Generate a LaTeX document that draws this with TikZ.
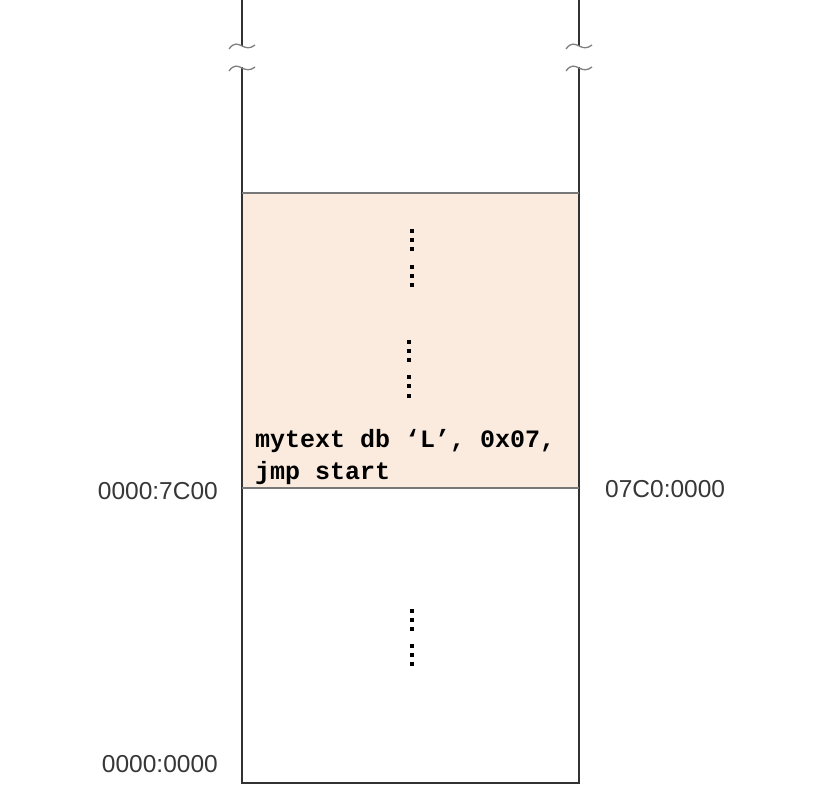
\documentclass[tikz,border=0pt]{standalone}
\usepackage{fontspec}
\setmainfont{Liberation Sans}
\newfontfamily\codefont{Liberation Mono}
\definecolor{memfill}{RGB}{250,235,222}
\definecolor{wall}{RGB}{50,50,50}
\definecolor{sepc}{RGB}{120,120,120}
\definecolor{labelc}{RGB}{55,55,55}
\begin{document}
\begin{tikzpicture}[x=1pt,y=-1pt,
  wallline/.style={draw=wall,line width=1.1pt},
  sepline/.style={draw=sepc,line width=1.1pt},
  breakmark/.style={draw=gray,line width=1.3pt},
  addr/.style={font=\fontsize{24.5}{28}\selectfont,text=labelc,inner sep=0pt},
  code/.style={font=\codefont\bfseries\fontsize{25}{30}\selectfont,text=black,inner sep=0pt},
  dotmark/.style={fill=black}]
\useasboundingbox (0,0) rectangle (823,809);
% shaded region
\fill[memfill] (242,193) rectangle (579,488);
% walls
\coordinate (lt) at (242,0);
\coordinate (lb1) at (242,46);
\coordinate (lt2) at (242,67);
\coordinate (lbot) at (242,783);
\coordinate (rt) at (579,0);
\coordinate (rb1) at (579,46);
\coordinate (rt2) at (579,67);
\coordinate (rbot) at (579,783);
\draw[wallline] (lt) -- (lb1);
\draw[wallline] (lt2) -- (lbot) -- (rbot) -- (rt2);
\draw[wallline] (rt) -- (rb1);
% break marks
\foreach \xx in {242,579}{
  \foreach \yy in {46,68}{
    \draw[breakmark] (\xx-13,\yy+3) .. controls (\xx-8,\yy-4) and (\xx-4,\yy-2) .. (\xx,\yy)
      .. controls (\xx+4,\yy+2) and (\xx+8,\yy+3) .. (\xx+13,\yy-1);
  }
}
% separators
\draw[sepline] (242,193) -- (579,193);
\draw[sepline] (242,488) -- (579,488);
% dots
\foreach \yy in {231,240,249,266.5,275.5,284.5}{\fill[dotmark] (409.7,\yy-2) rectangle (413.7,\yy+2);}
\foreach \yy in {342,351,360,377,386.3,395.5}{\fill[dotmark] (407,\yy-2) rectangle (411,\yy+2);}
\foreach \yy in {610.7,619.7,628.7,646,655,664}{\fill[dotmark] (409.7,\yy-2) rectangle (413.7,\yy+2);}
% code text
\node[code,anchor=base west] (c1) at (255,447) {mytext db ‘L’, 0x07,};
\node[code,anchor=base west] (c2) at (255,479) {jmp start};
% addresses
\node[addr,anchor=base east] (a1) at (218,499) {0000:7C00};
\node[addr,anchor=base west] (a2) at (605,497.5) {07C0:0000};
\node[addr,anchor=base east] (a3) at (218,772) {0000:0000};
\end{tikzpicture}
\end{document}
